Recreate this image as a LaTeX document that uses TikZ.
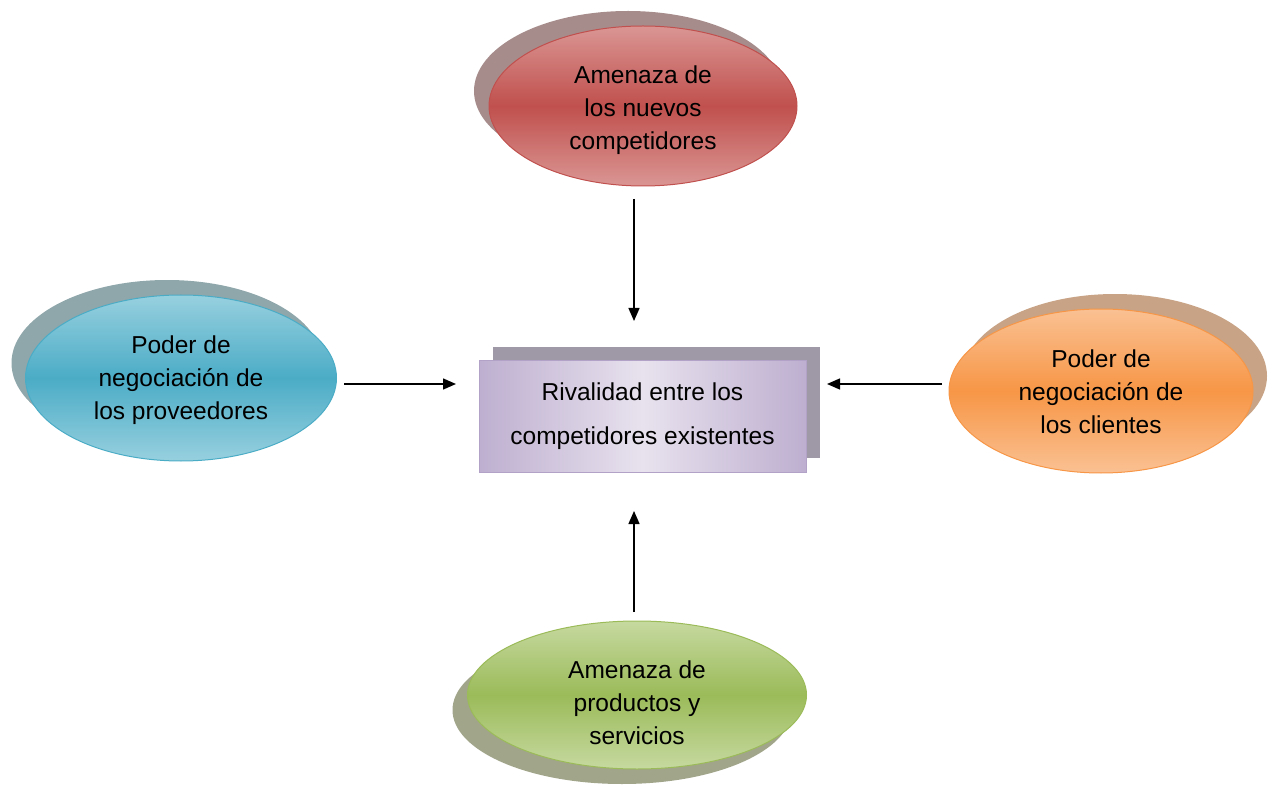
\documentclass[tikz,border=0pt]{standalone}
\usepackage{fontspec}
\setmainfont{Liberation Sans}
\usetikzlibrary{shapes.geometric,arrows.meta,shadows}
\definecolor{redmid}{HTML}{C0504D}
\definecolor{redlight}{HTML}{DA9694}
\definecolor{redshadow}{HTML}{A78C8C}
\definecolor{bluemid}{HTML}{4BACC6}
\definecolor{bluelight}{HTML}{97D0DF}
\definecolor{blueshadow}{HTML}{8FA6AB}
\definecolor{orangemid}{HTML}{F79646}
\definecolor{orangelight}{HTML}{FAC193}
\definecolor{orangeshadow}{HTML}{C9A385}
\definecolor{greenmid}{HTML}{9BBB59}
\definecolor{greenlight}{HTML}{C6D9A0}
\definecolor{greenshadow}{HTML}{A1A58A}
\definecolor{lavmid}{HTML}{E8E2EE}
\definecolor{lavdark}{HTML}{B3A2C8}
\definecolor{lavshadow}{HTML}{9F98A6}
\tikzset{
  force/.style={ellipse, inner sep=0pt, line width=1pt},
  label text/.style={align=center, inner sep=0pt, font=\fontsize{24.5}{33}\selectfont},
  arr/.style={line width=1.4pt, -{Triangle[length=13pt,width=11pt]}},
}
\begin{document}
\begin{tikzpicture}[x=1pt,y=-1pt]
\useasboundingbox (0,0) rectangle (1269,791);
% top (red)
\node[force, minimum width=308pt, minimum height=160pt, draw=redmid,
  top color=redlight, bottom color=redlight, middle color=redmid,
  general shadow={fill=redshadow, shadow xshift=-15pt, shadow yshift=15pt}]
  (red) at (643,106) {};
\node[label text] (redtext) at (643,110) {Amenaza de\\los nuevos\\competidores};
% left (blue)
\node[force, minimum width=311pt, minimum height=166pt, draw=bluemid,
  top color=bluelight, bottom color=bluelight, middle color=bluemid,
  general shadow={fill=blueshadow, shadow xshift=-14pt, shadow yshift=15pt}]
  (blue) at (181,378) {};
\node[label text] (bluetext) at (181,380) {Poder de\\negociación de\\los proveedores};
% right (orange)
\node[force, minimum width=304pt, minimum height=164pt, draw=orangemid,
  top color=orangelight, bottom color=orangelight, middle color=orangemid,
  general shadow={fill=orangeshadow, shadow xshift=14pt, shadow yshift=15pt}]
  (orange) at (1101,391) {};
\node[label text] (orangetext) at (1101,392) {Poder de\\negociación de\\los clientes};
% bottom (green)
\node[force, minimum width=339pt, minimum height=148pt, draw=greenmid,
  top color=greenlight, bottom color=greenlight, middle color=greenmid,
  general shadow={fill=greenshadow, shadow xshift=-15pt, shadow yshift=-15pt}]
  (green) at (637,695) {};
\node[label text] (greentext) at (637,703) {Amenaza de\\productos y\\servicios};
% center box
\node[rectangle, inner sep=0pt, minimum width=327pt, minimum height=111pt,
  draw=lavdark, line width=1pt, align=center, font=\fontsize{24.5}{44}\selectfont,
  left color=lavdark!80!lavmid, right color=lavdark!80!lavmid, middle color=lavmid,
  general shadow={fill=lavshadow, shadow xshift=14pt, shadow yshift=14pt}]
  (box) at (642.5,416.5) {Rivalidad entre los\\competidores existentes};
% arrow endpoints
\coordinate (t1) at (634,199);
\coordinate (t2) at (634,321);
\coordinate (l1) at (344,384);
\coordinate (l2) at (456,384);
\coordinate (r1) at (942,384);
\coordinate (r2) at (827,384);
\coordinate (b1) at (634,612);
\coordinate (b2) at (634,511);
\draw[arr] (t1) -- (t2);
\draw[arr] (l1) -- (l2);
\draw[arr] (r1) -- (r2);
\draw[arr] (b1) -- (b2);
\end{tikzpicture}
\end{document}
